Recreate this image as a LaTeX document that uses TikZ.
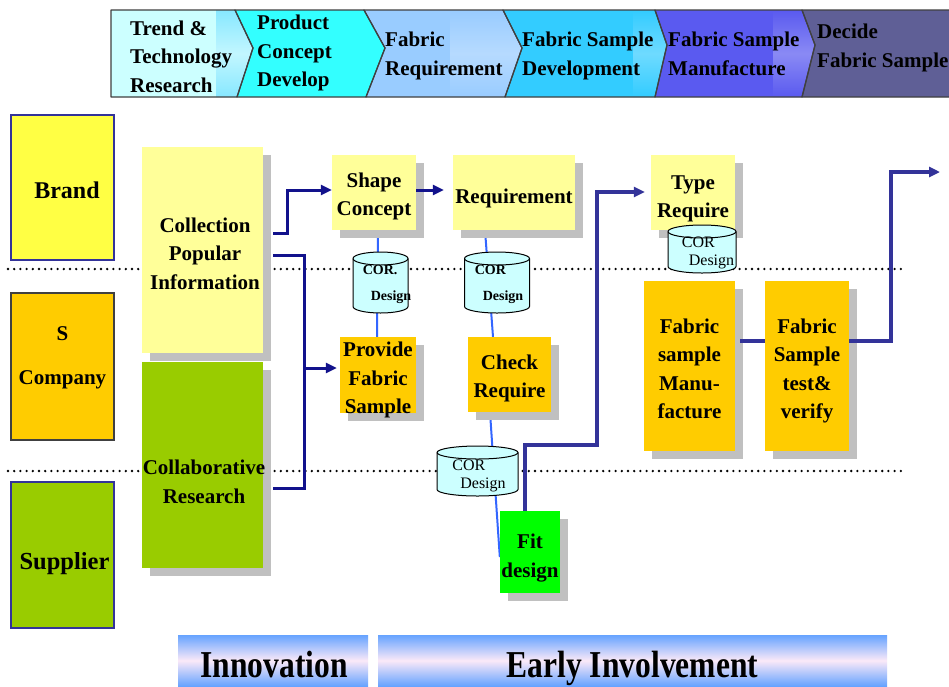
\documentclass[tikz,border=0pt]{standalone}
\usepackage{fontspec}
\setmainfont{Liberation Serif}
\newfontfamily\condfont[FakeStretch=0.83]{Liberation Serif}
\usetikzlibrary{arrows.meta,shadows}

\definecolor{brandyellow}{HTML}{FFFF44}
\definecolor{scorange}{HTML}{FFCC00}
\definecolor{supgreen}{HTML}{99CC00}
\definecolor{paleyellow}{HTML}{FFFF99}
\definecolor{fitgreen}{HTML}{00FF00}
\definecolor{cylcyan}{HTML}{CCFFFF}
\definecolor{shadowgray}{HTML}{C0C0C0}
\definecolor{flowblue}{HTML}{12128C}
\definecolor{flowindigo}{HTML}{333399}
\definecolor{linkblue}{HTML}{3366FF}
\definecolor{lanedraw}{HTML}{333399}
\definecolor{barblue}{HTML}{66A3FF}
\definecolor{barpink}{HTML}{FBE9F8}
\definecolor{hA}{HTML}{CCFFFF}
\definecolor{hB}{HTML}{33FFFF}
\definecolor{hC}{HTML}{99CCFF}
\definecolor{hD}{HTML}{33CCFF}
\definecolor{hE}{HTML}{5A5AF0}
\definecolor{hF}{HTML}{5F5F96}
\definecolor{hedge}{HTML}{404040}

\pgfdeclarelayer{canvas}
\pgfdeclarelayer{links}
\pgfsetlayers{canvas,links,main}

% database drum: centre x, top-ellipse y, bottom y, x radius, y radius
\newcommand\cordrum[5]{%
  \filldraw[fill=cylcyan,draw=black,line width=1pt]
    (#1-#4,#2) -- (#1-#4,#3)
    arc[start angle=180,end angle=360,x radius=#4pt,y radius=#5pt]
    -- (#1+#4,#2)
    arc[start angle=0,end angle=180,x radius=#4pt,y radius=#5pt] -- cycle;
  \draw[black,line width=1pt] (#1-#4,#2)
    arc[start angle=180,end angle=360,x radius=#4pt,y radius=#5pt];
}

% process stages: outline points of each chevron
\def\stageA{(111,10) -- (235,10) -- (253,48) -- (237,97) -- (111,97) -- cycle}
\def\stageB{(235,10) -- (364,10) -- (385,48) -- (366,97) -- (237,97) -- (253,48) -- cycle}
\def\stageC{(364,10) -- (503,10) -- (522,48) -- (505,97) -- (366,97) -- (385,48) -- cycle}
\def\stageD{(503,10) -- (655,10) -- (667,45) -- (655,97) -- (505,97) -- (522,48) -- cycle}
\def\stageE{(655,10) -- (802,10) -- (815,45) -- (802,97) -- (655,97) -- (667,45) -- cycle}
\def\stageF{(802,10) -- (965,10) -- (980,45) -- (965,97) -- (802,97) -- (815,45) -- cycle}

\tikzset{
  hdr/.style={middle color=white},
  hdrband/.style={fill opacity=0.45,top color=#1,bottom color=#1,middle color=#1!35!white},
  hdredge/.style={draw=hedge,line width=1.2pt,line join=round},
  hdrtext/.style={anchor=west,align=left,inner sep=0pt,
    font=\bfseries\fontsize{21}{28.5}\selectfont},
  lane/.style={line width=1.2pt,minimum width=103pt,inner sep=0pt},
  lanetext/.style={inner sep=0pt,align=center,font=\bfseries\fontsize{24}{28}\selectfont},
  box/.style={inner sep=0pt,
    drop shadow={shadow xshift=8pt,shadow yshift=-8pt,fill=shadowgray,opacity=1}},
  boxtext/.style={inner sep=0pt,align=center,
    font=\bfseries\fontsize{21}{28.5}\selectfont},
  cortext/.style={inner sep=0pt,align=left,font=\bfseries\fontsize{14}{26}\selectfont},
  corthin/.style={inner sep=0pt,align=left,font=\fontsize{16}{17.5}\selectfont},
  sepline/.style={line width=2.6pt,line cap=round,dash pattern=on 0pt off 6.2pt},
  link/.style={linkblue,line width=2pt},
  flow/.style={flowblue,line width=3pt},
  flowb/.style={flowindigo,line width=3.5pt},
  tip/.style={-{Triangle[length=11pt,width=10pt]}},
  bar/.style={inner sep=0pt,top color=barblue,bottom color=barblue,middle color=barpink},
  bartext/.style={inner sep=0pt,anchor=base,font=\condfont\bfseries\fontsize{38}{40}\selectfont},
}

\begin{document}
\begin{tikzpicture}[x=1pt,y=-1pt]
\useasboundingbox (0,0) rectangle (949,686);
\begin{pgfonlayer}{canvas}
\fill[white] (0,0) rectangle (949,686);
\end{pgfonlayer}

% ---- process chevrons
\path[hdr,top color=hA,bottom color=hA] \stageA;
\path[hdr,top color=hB,bottom color=hB] \stageB;
\path[hdr,top color=hC,bottom color=hC] \stageC;
\path[hdr,top color=hD,bottom color=hD] \stageD;
\path[hdr,top color=hE,bottom color=hE] \stageE;
\path[hdr,top color=hF,bottom color=hF] \stageF;
% deeper bands along the pointed ends
\path[hdrband=hD] (216,10) -- (235,10) -- (253,48) -- (237,97) -- (216,97) -- cycle;
\path[hdrband=hC] (450,10) -- (503,10) -- (522,48) -- (505,97) -- (450,97) -- cycle;
\path[hdrband=hD] (633,10) -- (655,10) -- (667,45) -- (655,97) -- (633,97) -- cycle;
\path[hdrband=hE] (773,10) -- (802,10) -- (815,45) -- (802,97) -- (773,97) -- cycle;
\draw[hdredge] \stageA; \draw[hdredge] \stageB; \draw[hdredge] \stageC;
\draw[hdredge] \stageD; \draw[hdredge] \stageE; \draw[hdredge] \stageF;

\node[hdrtext] (p1) at (130,56.5) {Trend \&\\Technology\\Research};
\node[hdrtext] (p2) at (257,53) {Product\\Concept\\Develop};
\node[hdrtext] (p3) at (385,56) {Fabric\\Requirement};
\node[hdrtext] (p4) at (522,56) {Fabric Sample\\Development};
\node[hdrtext] (p5) at (668,54) {Fabric Sample\\Manufacture};
\node[hdrtext] (p6) at (817,48) {Decide\\Fabric Sample};

% ---- lane separators
\draw[sepline] (8,269) -- (905,269);
\draw[sepline] (8,471) -- (905,471);

% ---- lane labels
\node[lane,draw=lanedraw,fill=brandyellow,minimum height=145pt] (brand) at (62.5,187.5) {};
\node[lanetext] (brandtext) at (67,190.5) {Brand};
\node[lane,draw=hedge,fill=scorange,minimum height=147pt] (scomp) at (62.5,366.5) {};
\node[boxtext] (sctext) at (62.5,358) {S\\[15pt]Company};
\node[lane,draw=lanedraw,fill=supgreen,minimum height=146pt] (supp) at (62.5,555) {};
\node[lanetext,font=\bfseries\fontsize{24.5}{28}\selectfont] (supptext) at (64.5,563.5) {Supplier};

% ---- activities
\node[box,fill=paleyellow,minimum width=121pt,minimum height=206pt] (coll) at (202.5,250) {};
\node[boxtext] (colltext) at (205,253.5) {Collection\\Popular\\Information};
\node[box,fill=supgreen,minimum width=121pt,minimum height=206pt] (collab) at (202.5,465) {};
\node[boxtext] (collabtext) at (204,482) {Collaborative\\Research};
\node[box,fill=paleyellow,minimum width=84pt,minimum height=75pt] (shape) at (374,192.5) {};
\node[boxtext] (shapetext) at (374,196.5) {Shape\\Concept};
\node[box,fill=paleyellow,minimum width=122pt,minimum height=75pt] (req) at (514,192.5) {};
\node[boxtext] (reqtext) at (514,198.5) {Requirement};
\node[box,fill=paleyellow,minimum width=84pt,minimum height=75pt] (type) at (693,192.5) {};
\node[boxtext] (typetext) at (693,199) {Type\\Require};
\node[box,fill=scorange,minimum width=76pt,minimum height=76pt] (provide) at (378,375) {};
\node[boxtext] (providetext) at (378,380) {Provide\\Fabric\\Sample};
\node[box,fill=scorange,minimum width=83pt,minimum height=75pt] (check) at (509.5,374.5) {};
\node[boxtext] (checktext) at (509.5,378.5) {Check\\Require};
\node[box,fill=fitgreen,minimum width=60pt,minimum height=82pt] (fit) at (530,552) {};
\node[boxtext] (fittext) at (530,558) {Fit\\design};
\node[box,fill=scorange,minimum width=91pt,minimum height=170pt] (fsm) at (689.5,366) {};
\node[boxtext] (fsmtext) at (689.5,369) {Fabric\\sample\\Manu-\\facture};
\node[box,fill=scorange,minimum width=84pt,minimum height=170pt] (fst) at (807,366) {};
\node[boxtext] (fsttext) at (807,371) {Fabric\\Sample\\test\&\\verify};

% ---- design record links (behind the boxes and drums)
\begin{pgfonlayer}{links}
\draw[link] ([xshift=4pt]shape.south) -- ([xshift=-1pt]provide.north);
\draw[link] ([xshift=-29pt]req.south) -- ([xshift=-16.5pt]check.north);
\draw[link] ([xshift=-19.5pt]check.south) -- ([yshift=-5pt]fit.west);
\end{pgfonlayer}

% ---- COR design records
\cordrum{380.5}{258.5}{306.5}{27.5}{6.5}
\node[cortext] (c1) at (387,284) {COR.\\\hspace*{8pt}Design};
\cordrum{497}{258.5}{306.5}{32.5}{6.5}
\node[cortext] (c2) at (499,284) {COR\\\hspace*{8pt}Design};
\cordrum{702}{231.5}{266.5}{34}{6.5}
\node[corthin] (c3) at (708,253) {COR\\\hspace*{7pt}Design};
\cordrum{477.5}{452.5}{489.5}{40.5}{6.5}
\node[corthin] (c4) at (479,476) {COR\\\hspace*{8pt}Design};

% ---- flow connectors
\coordinate (merge) at (304,368);
\coordinate (bendfit) at (597,445);
\coordinate (exit) at (940,172);
\draw[flow,tip] ([shift={(10pt,17pt)}]coll.east) -- ++(14,0) |- ([yshift=2.5pt]shape.west);
\draw[flow] ([shift={(10pt,-5pt)}]coll.east) -| (merge);
\draw[flow] ([shift={(10pt,-23pt)}]collab.east) -| (merge);
\draw[flow,tip,shorten >=3pt] (merge) -- ([yshift=7pt]provide.west);
\draw[flow,tip,shorten >=9pt] ([yshift=2.5pt]shape.east) -- ([yshift=2.5pt]req.west);
\draw[flowb,tip,shorten >=6pt] ([xshift=-5pt]fit.north) |- (bendfit) |- ([yshift=0.5pt]type.west);
\draw[flowb] ([shift={(5pt,25pt)}]fsm.east) -- ([yshift=25pt]fst.west);
\draw[flowb,tip] ([yshift=25pt]fst.east) -- ++(42,0) |- (exit);

% ---- phase bars
\node[bar,minimum width=190pt,minimum height=51pt] (innov) at (273,660.5) {};
\node[bartext] (innovtext) at (274,677) {Innovation};
\node[bar,minimum width=509pt,minimum height=51pt] (early) at (632.5,660.5) {};
\node[bartext] (earlytext) at (632.5,677) {Early Involvement};
\end{tikzpicture}
\end{document}
